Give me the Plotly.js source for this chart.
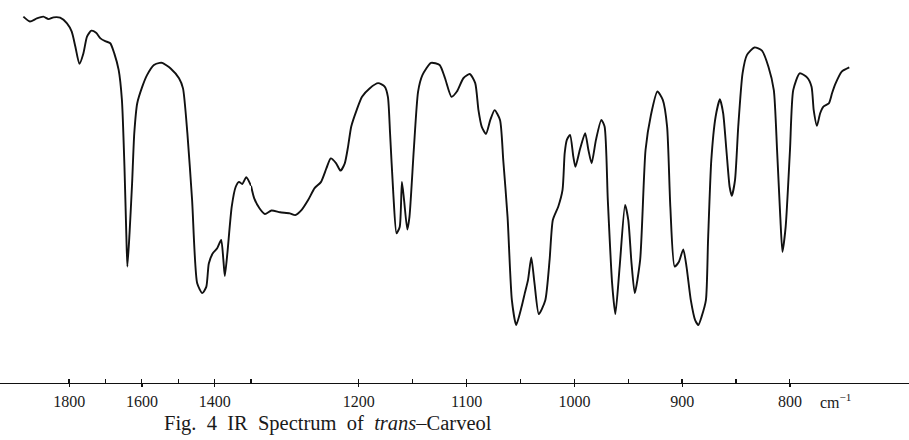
<!DOCTYPE html>
<html>
<head>
<meta charset="utf-8">
<script src="https://cdn.plot.ly/plotly-3.0.1.min.js"></script>
<style>
  html, body { margin: 0; padding: 0; background: #fff; }
  #chart { width: 909px; height: 440px; }
</style>
</head>
<body>
<div id="chart"></div>
<script>
// Wavenumber (cm-1) and transmittance (%)
const wavenumber = [
  1926,1908,1889,1871,1857,1843,1825,1806,1793,1783,1772,1761,1751,1739,1726,1714,1701,1687,1676,1664,
  1655,1648,1643,1640,1634,1627,1621,1613,1599,1586,1567,1551,1544,1521,1498,1487,1475,1462,1448,1434,
  1423,1416,1405,1393,1382,1376,1372,1365,1353,1342,1333,1324,1313,1300,
  1297,1292,1287,1281,1273,1264,1259,1253,1247,1241,1235,1230,1226,1221,1217,1213,1210,1207,1202,1197,
  1190,1182,1176,1173,1171,1168,1165,1162,1160,1158,1155,1153,1149,1145,1141,1133,1125,1120,1114,1109,
  1103,1097,1092,1089,1086,1082,1078,1074,1069,1066,1062,1058,1054,1049,1046,1043,1040,1037,1033,1027,
  1023,1020,1015,1011,1009,1007,1004,1001,999,995,990,987,984,980,975,972,969,965,962,958,
  953,950,947,944,939,934,929,923,918,914,911,907,903,899,896,892,888,885,882,878,
  876,873,869,865,862,859,856,854,851,848,844,840,833,826,820,815,812,809,807,804,
  800,797,791,784,780,778,775,772,769,764,761,758,752,745
];
const transmittance = [
  98.1,96.7,97.6,98.1,97.4,97.9,97.8,96.2,93.8,89.5,84.6,87.6,92.4,94.1,93.5,91.9,91.1,90.5,87.6,82.9,
  74.3,55.2,36.3,26.7,36.3,50.5,64.8,73.3,78.1,81.4,84.3,84.9,84.9,83.3,80.5,77.6,64.8,45.7,21.9,19.1,
  20.9,27.6,30.5,31.9,34.3,28.6,24.0,30.5,43.8,49.5,50.9,50.3,52.2,49.8,
  46.2,43.3,41.7,42.7,42.2,41.9,41.4,42.9,45.7,49.1,50.9,54.8,57.6,56.2,54.1,56.2,60.9,66.7,71.4,75.2,
  77.6,79.1,78.1,75.2,64.8,47.6,36.2,38.1,50.9,45.7,37.3,40.9,60.0,76.7,81.4,84.9,84.3,80.5,75.2,76.7,
  80.5,81.7,79.1,71.4,66.7,64.6,68.6,71.4,68.6,57.1,40.9,17.1,10.0,15.2,19.1,22.9,29.3,21.9,13.1,17.1,
  28.6,40.0,43.8,48.6,59.1,62.9,64.3,58.1,55.2,60.0,64.8,60.0,56.2,62.9,68.6,66.7,45.7,21.9,13.1,26.7,
  44.3,40.0,27.6,19.1,28.6,60.0,70.0,76.7,74.3,66.7,43.8,26.7,28.1,31.6,26.7,17.1,11.4,10.0,12.4,17.1,
  34.3,57.1,69.5,74.5,70.5,60.0,49.5,46.9,51.4,66.7,81.9,87.1,89.3,88.4,83.8,77.1,60.0,40.9,30.9,38.1,
  60.0,77.1,81.9,80.7,78.1,71.4,66.9,70.5,72.4,73.3,76.2,78.8,82.4,83.6
];

// Axis ticks (scale changes at 1300 cm-1)
const scaleBreak = 1300;
const labeledTicks = [1800, 1600, 1400, 1200, 1100, 1000, 900, 800];
const allTicks = [1800, 1700, 1600, 1500, 1400, 1300, 1200, 1150, 1100, 1050, 1000, 950, 900, 850, 800];
const captionText = 'Fig.\u00A0\u00A04\u00A0\u00A0IR\u00A0\u00A0Spectrum\u00A0\u00A0of\u00A0\u00A0<i>trans</i>–Carveol';
const unitText = 'cm<sup>−1</sup>';

// split into the two scale regions
const hiX = [], hiY = [], loX = [], loY = [];
wavenumber.forEach((w, i) => {
  if (w >= scaleBreak) { hiX.push(w); hiY.push(transmittance[i]); }
  if (w <= scaleBreak) { loX.push(w); loY.push(transmittance[i]); }
});

const lineStyle = { color: '#111', width: 1.9, shape: 'spline', smoothing: 0.6 };
const traces = [
  { x: hiX, y: hiY, xaxis: 'x', yaxis: 'y', mode: 'lines', line: lineStyle, hoverinfo: 'skip' },
  { x: loX, y: loY, xaxis: 'x2', yaxis: 'y', mode: 'lines', line: lineStyle, hoverinfo: 'skip' }
];

const split = 251 / 909;
const serif = '"Liberation Serif", "DejaVu Serif", serif';
const tickFont = { family: serif, size: 16, color: '#1a1a1a' };

function axisCfg(domain, range, region) {
  const inRegion = v => region === 'hi' ? v >= scaleBreak : v < scaleBreak;
  const lab = labeledTicks.filter(inRegion);
  // upward tick marks; labelled positions nudged a hair so they are not merged with the major ticks
  const up = allTicks.filter(inRegion).map(v => lab.includes(v) ? v + 0.2 : v);
  return {
    domain: domain, range: range, anchor: 'y',
    showline: true, linecolor: '#111', linewidth: 1.3,
    showgrid: false, zeroline: false,
    tickmode: 'array', tickvals: lab, ticktext: lab.map(String),
    ticks: 'outside', ticklen: 3, tickwidth: 1.3, tickcolor: '#111',
    tickfont: tickFont, ticklabelstandoff: 0,
    minor: { tickmode: 'array', tickvals: up, ticks: 'inside', ticklen: 4, tickwidth: 1.3, tickcolor: '#111', showgrid: false },
    fixedrange: true
  };
}

const layout = {
  width: 909, height: 440,
  margin: { l: 0, r: 0, t: 10, b: 57 },
  paper_bgcolor: '#fff', plot_bgcolor: '#fff',
  showlegend: false,
  xaxis: axisCfg([0, split], [1990.3, scaleBreak], 'hi'),
  xaxis2: axisCfg([split, 1], [scaleBreak, 689.6], 'lo'),
  yaxis: { range: [-6.571, 100], visible: false, fixedrange: true },
  annotations: [
    { text: captionText, xref: 'paper', yref: 'paper', x: 328 / 909, y: -0.109,
      xanchor: 'center', yanchor: 'middle', showarrow: false,
      font: { family: serif, size: 20.5, color: '#1a1a1a' } },
    { text: unitText, xref: 'paper', yref: 'paper', x: 818 / 909, y: -0.049,
      xanchor: 'left', yanchor: 'middle', showarrow: false,
      font: { family: serif, size: 16, color: '#1a1a1a' } }
  ]
};

Plotly.newPlot('chart', traces, layout, { staticPlot: true, displayModeBar: false });
</script>
</body>
</html>
